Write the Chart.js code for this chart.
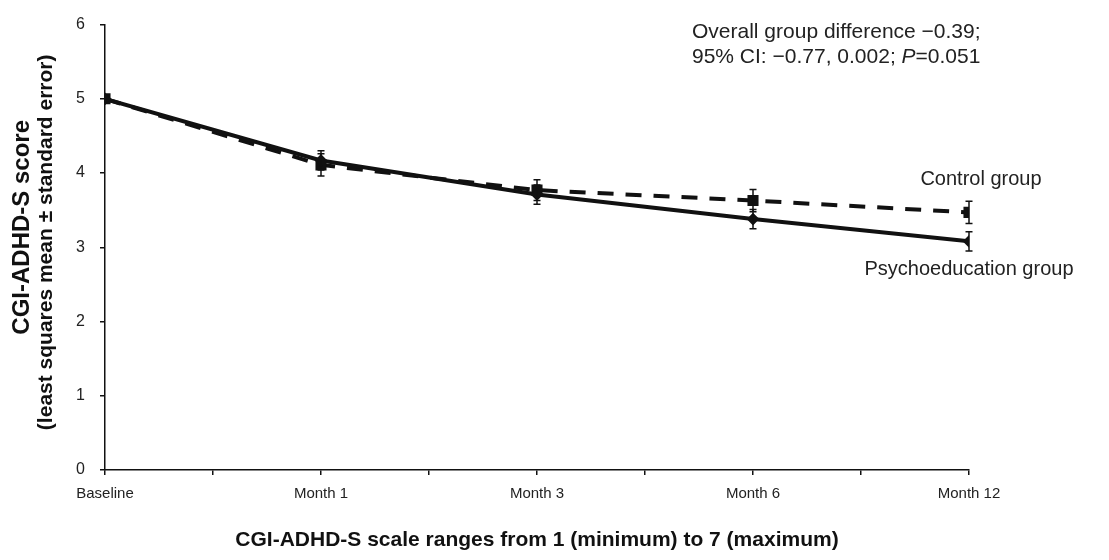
<!DOCTYPE html>
<html>
<head>
<meta charset="utf-8">
<script src="https://cdn.jsdelivr.net/npm/chart.js@4.4.1/dist/chart.umd.min.js"></script>
<style>
  html, body { margin: 0; padding: 0; background: #fff; }
  #wrap { width: 1109px; height: 560px; position: relative; }
</style>
</head>
<body>
<div id="wrap"><canvas id="chart"></canvas></div>
<script>
const FONT = '"Liberation Sans", Arial, sans-serif';

const timepoints = ['Baseline', 'Month 1', 'Month 3', 'Month 6', 'Month 12'];
const psychoMean = [5.0, 4.17, 3.71, 3.38, 3.08];
const psychoSE = [0.0, 0.13, 0.13, 0.13, 0.13];
const controlMean = [5.0, 4.11, 3.77, 3.63, 3.47];
const controlSE = [0.0, 0.15, 0.14, 0.15, 0.15];
const yTicks = [0, 1, 2, 3, 4, 5, 6];

const yTitle = ['CGI-ADHD-S score', '(least squares mean \u00b1 standard error)'];
const annotation = ['Overall group difference \u22120.39;', '95% CI: \u22120.77, 0.002; P=0.051'];

function toPoints(arr) {
  return arr.map((v, i) => ({ x: i, y: v }));
}

// error bars drawn through the y scale
const errorBars = {
  id: 'errorBars',
  afterDatasetsDraw(chart) {
    const ctx = chart.ctx;
    const y = chart.scales.y;
    const ses = [psychoSE, controlSE];
    ctx.save();
    ctx.strokeStyle = '#111';
    ctx.lineWidth = 1.5;
    chart.data.datasets.forEach((ds, di) => {
      const meta = chart.getDatasetMeta(di);
      meta.data.forEach((pt, i) => {
        const se = ses[di][i];
        if (!se) return;
        const v = ds.data[i].y;
        const top = y.getPixelForValue(v + se);
        const bot = y.getPixelForValue(v - se);
        ctx.beginPath();
        ctx.moveTo(pt.x, top); ctx.lineTo(pt.x, bot);
        ctx.moveTo(pt.x - 3.5, top); ctx.lineTo(pt.x + 3.5, top);
        ctx.moveTo(pt.x - 3.5, bot); ctx.lineTo(pt.x + 3.5, bot);
        ctx.stroke();
      });
    });
    ctx.restore();
  }
};

const labels = {
  id: 'labels',
  afterDraw(chart) {
    const ctx = chart.ctx;
    const area = chart.chartArea;
    const x = chart.scales.x, y = chart.scales.y;
    const last = timepoints.length - 1;
    ctx.save();
    ctx.fillStyle = '#222';
    ctx.font = '20px ' + FONT;
    ctx.textBaseline = 'middle';

    // group labels next to the last points
    ctx.textAlign = 'center';
    ctx.fillText('Control group', x.getPixelForValue(last) + 12, y.getPixelForValue(controlMean[last]) - 33);
    ctx.fillText('Psychoeducation group', x.getPixelForValue(last), y.getPixelForValue(psychoMean[last]) + 28);

    // stats text, top right
    ctx.font = '21px ' + FONT;
    ctx.textAlign = 'left';
    const ax = area.left + 587;
    ctx.fillText(annotation[0], ax, area.top + 8);
    const parts = annotation[1].split('P=');
    ctx.fillText(parts[0], ax, area.top + 33);
    let w = ctx.measureText(parts[0]).width;
    ctx.font = 'italic 21px ' + FONT;
    ctx.fillText('P', ax + w, area.top + 33);
    w += ctx.measureText('P').width;
    ctx.font = '21px ' + FONT;
    ctx.fillText('=' + parts[1], ax + w, area.top + 33);

    // y axis title, two lines of different size
    ctx.fillStyle = '#111';
    ctx.textAlign = 'center';
    ctx.translate(0, (area.top + area.bottom) / 2);
    ctx.rotate(-Math.PI / 2);
    ctx.font = 'bold 24px ' + FONT;
    ctx.fillText(yTitle[0], 20, 22);
    ctx.font = 'bold 21px ' + FONT;
    ctx.fillText(yTitle[1], 5, 46);
    ctx.restore();
  }
};

new Chart(document.getElementById('chart'), {
  type: 'line',
  data: {
    datasets: [
      {
        label: 'Psychoeducation group',
        data: toPoints(psychoMean),
        borderColor: '#111',
        backgroundColor: '#111',
        borderWidth: 4,
        pointStyle: 'rectRot',
        pointRadius: 3.5,
        tension: 0
      },
      {
        label: 'Control group',
        data: toPoints(controlMean),
        borderColor: '#111',
        backgroundColor: '#111',
        borderWidth: 4,
        borderDash: [16, 12],
        pointStyle: 'rect',
        pointRadius: 5,
        tension: 0
      }
    ]
  },
  options: {
    responsive: true,
    maintainAspectRatio: false,
    animation: false,
    layout: { padding: { top: 17, right: 140, left: 0, bottom: 0 } },
    plugins: { legend: { display: false }, tooltip: { enabled: false } },
    scales: {
      x: {
        type: 'linear',
        min: 0,
        max: timepoints.length - 1,
        afterFit: s => { s.height = 90; },
        afterBuildTicks: s => {
          s.ticks = [];
          for (let v = 0; v <= timepoints.length - 1; v += 0.5) s.ticks.push({ value: v });
        },
        ticks: {
          autoSkip: false,
          maxRotation: 0,
          padding: 10,
          color: '#222',
          font: { family: FONT, size: 15 },
          callback: v => Number.isInteger(v) ? timepoints[v] : ''
        },
        grid: { drawOnChartArea: false, drawTicks: true, tickLength: 5, color: '#111', lineWidth: 1.5 },
        border: { display: true, color: '#111', width: 1.5 },
        title: {
          display: true,
          text: 'CGI-ADHD-S scale ranges from 1 (minimum) to 7 (maximum)',
          color: '#111',
          font: { family: FONT, size: 21, weight: 'bold', lineHeight: 1.2 },
          padding: { top: 0, bottom: 7 }
        }
      },
      y: {
        min: 0,
        max: 6,
        afterFit: s => { s.width = 105; },
        afterBuildTicks: s => { s.ticks = yTicks.map(v => ({ value: v })); },
        ticks: {
          padding: 15,
          color: '#222',
          font: { family: FONT, size: 16 }
        },
        grid: { drawOnChartArea: false, drawTicks: true, tickLength: 5, color: '#111', lineWidth: 1.5 },
        border: { display: true, color: '#111', width: 1.5 }
      }
    }
  },
  plugins: [errorBars, labels]
});
</script>
</body>
</html>
